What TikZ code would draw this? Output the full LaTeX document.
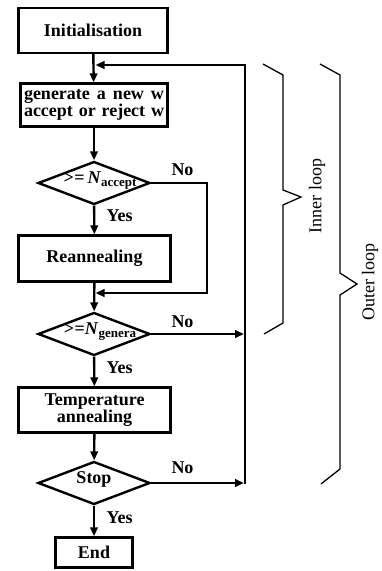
\documentclass[tikz,border=0pt]{standalone}
\usepackage{fontspec}
\setmainfont{Liberation Serif}
\usetikzlibrary{arrows.meta,shapes.geometric}
\begin{document}
\begin{tikzpicture}[x=1pt,y=-1pt,
  box/.style={draw,line width=2.4pt,inner sep=0pt,font=\fontsize{18}{17}\selectfont\bfseries,align=center},
  dia/.style={draw,diamond,line width=2.4pt,inner sep=0pt,minimum width=112pt,minimum height=43pt,font=\fontsize{18}{17}\selectfont\bfseries},
  flow/.style={line width=2.4pt,line join=miter},
  arr/.style={flow,-{Triangle[length=9pt,width=7.5pt]}},
  lbl/.style={font=\fontsize{18}{18}\selectfont\bfseries,inner sep=0pt},
  brace/.style={line width=1.3pt,line join=miter},
  looptext/.style={font=\fontsize{18}{18}\selectfont,rotate=90,inner sep=0pt}]
\useasboundingbox (0,0) rectangle (381,571);

% boxes
\node[box,minimum width=149pt,minimum height=45pt] (init) at (93,30.5) {Initialisation};
\node[box,minimum width=147pt,minimum height=43pt,font=\fontsize{18}{16}\selectfont\bfseries] (gen) at (94,105)
  {\makebox[140pt][s]{generate a new w}\\\makebox[140pt][s]{accept or reject w}};
\node[dia] (d1) at (94,183) {\smash{\makebox[0pt]{\hspace*{12pt}>\kern0.5pt=\,\textit{N}\raisebox{-3.5pt}{\fontsize{13}{13}\selectfont accept}}}};
\node[box,minimum width=152pt,minimum height=46pt] (rean) at (94.5,258.5) {Reannealing};
\node[dia] (d2) at (94,334) {\smash{\makebox[0pt]{\hspace*{12pt}>\kern0.5pt=\textit{N}\raisebox{-3.5pt}{\fontsize{13}{13}\selectfont genera}}}};
\node[box,minimum width=152pt,minimum height=45pt] (temp) at (94.5,410) {Temperature\\annealing};
\node[dia] (d3) at (94,483) {\smash{\makebox[0pt]{Stop}}};
\node[box,minimum width=77pt,minimum height=30pt] (endb) at (94,552.5) {End};

% labels
\node[lbl] (no1) at (182.5,170) {No};
\node[lbl] (yes1) at (119.5,216) {Yes};
\node[lbl] (no2) at (182.5,322) {No};
\node[lbl] (yes2) at (119.5,368) {Yes};
\node[lbl] (no3) at (182.5,468) {No};
\node[lbl] (yes3) at (119.5,518) {Yes};

% coordinates
\coordinate (j1) at (95.5,65);
\coordinate (j2) at (95.5,293);
\coordinate (r1) at (207,183);
\coordinate (r2) at (207,293);
\coordinate (k2) at (244,334);
\coordinate (k3) at (244,483);
\coordinate (lb) at (245,484.2);
\coordinate (lt) at (245,65);

% main flow
\draw[arr] (init) -- (gen);
\draw[arr] (gen) -- (d1);
\draw[arr] (d1) -- (rean);
\draw[arr] (rean) -- (d2);
\draw[arr] (d2) -- (temp);
\draw[arr] (temp) -- (d3);
\draw[arr] (d3) -- (endb);

% loops
\draw[arr] (d1.east) -- (r1) -- (r2) -- (j2);
\draw[arr] (d2.east) -- (k2);
\draw[arr] (d3.east) -- (k3);
\draw[arr] (lb) -- (lt) -- (j1);

% braces
\draw[brace] (263,64) -- (283,75) -- (283,190) -- (301,197) -- (283,205) -- (283,323) -- (264,334);
\draw[brace] (320,64) -- (340,75) -- (340,273) -- (357,284) -- (340,295) -- (340,469) -- (321,484);
\node[looptext] (inner) at (317,196) {Inner loop};
\node[looptext] (outer) at (370,282) {Outer loop};
\end{tikzpicture}
\end{document}
